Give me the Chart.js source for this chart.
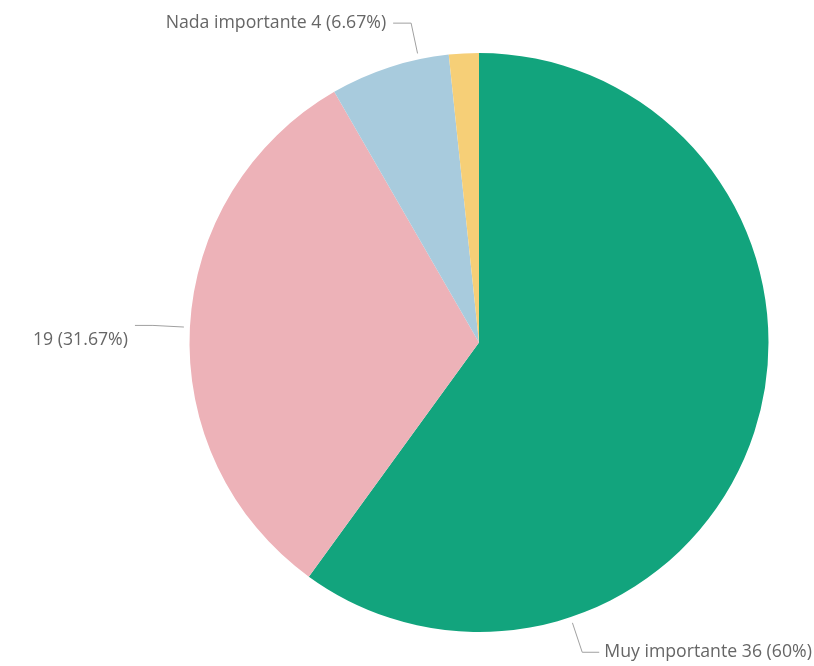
<!DOCTYPE html>
<html>
<head>
<meta charset="utf-8">
<script src="https://cdn.jsdelivr.net/npm/chart.js@4/dist/chart.umd.min.js"></script>
<style>
  html, body { margin: 0; padding: 0; background: #fff; }
  #chart-box { width: 814px; height: 666px; }
</style>
</head>
<body>
<div id="chart-box"><canvas id="pie"></canvas></div>
<script>
// answers per category
const categories = ["Muy importante", "", "Nada importante", ""];
const counts = [36, 19, 4, 1];
const sliceColors = ["#12A47D", "#EDB2B8", "#A8CBDD", "#F6CF77"];
const showLabel = [true, true, true, false];

const total = counts.reduce((a, b) => a + b, 0);

function labelText(i) {
  const pct = Math.round(counts[i] / total * 10000) / 100;
  const name = categories[i] ? categories[i] + " " : "";
  return `${name}${counts[i]} (${pct}%)`;
}

// where the leader line leaves each slice (fraction of its sweep) and a vertical nudge for the text
const leaderCfg = [
  { frac: 0.748, dy: 0 },
  { frac: 0.5, dy: 15 },
  { frac: 0.75, dy: 0 },
  null,
];

const leaderLabels = {
  id: "leaderLabels",
  afterDraw(chart) {
    const ctx = chart.ctx;
    const arcs = chart.getDatasetMeta(0).data;
    ctx.save();
    ctx.font = "17.7px 'Open Sans', sans-serif";
    ctx.textBaseline = "middle";
    arcs.forEach((arc, i) => {
      if (!showLabel[i] || !leaderCfg[i]) return;
      const { x, y, startAngle, endAngle, outerRadius } = arc.getProps(
        ["x", "y", "startAngle", "endAngle", "outerRadius"], true);
      const a = startAngle + (endAngle - startAngle) * leaderCfg[i].frac;
      const cos = Math.cos(a), sin = Math.sin(a);
      const x0 = x + (outerRadius + 6) * cos, y0 = y + (outerRadius + 6) * sin;
      const x1 = x + (outerRadius + 37) * cos, y1 = y + (outerRadius + 37) * sin;
      const right = cos >= 0;
      const x2 = x1 + (right ? 17 : -18);

      ctx.strokeStyle = "#A0A0A0";
      ctx.lineWidth = 1;
      ctx.beginPath();
      ctx.moveTo(x0, y0);
      ctx.lineTo(x1, y1);
      ctx.lineTo(x2, y1);
      ctx.stroke();

      ctx.fillStyle = "#666666";
      ctx.textAlign = right ? "left" : "right";
      ctx.fillText(labelText(i), x2 + (right ? 5 : -7), y1 + leaderCfg[i].dy);
    });
    ctx.restore();
  },
};

new Chart(document.getElementById("pie"), {
  type: "pie",
  data: {
    labels: categories,
    datasets: [{
      data: counts,
      backgroundColor: sliceColors,
      borderWidth: 0,
    }],
  },
  options: {
    responsive: true,
    maintainAspectRatio: false,
    animation: false,
    events: [],
    layout: {
      padding: { left: 189, right: 45, top: 53, bottom: 34 },
    },
    plugins: {
      legend: { display: false },
      tooltip: { enabled: false },
    },
  },
  plugins: [leaderLabels],
});
</script>
</body>
</html>
